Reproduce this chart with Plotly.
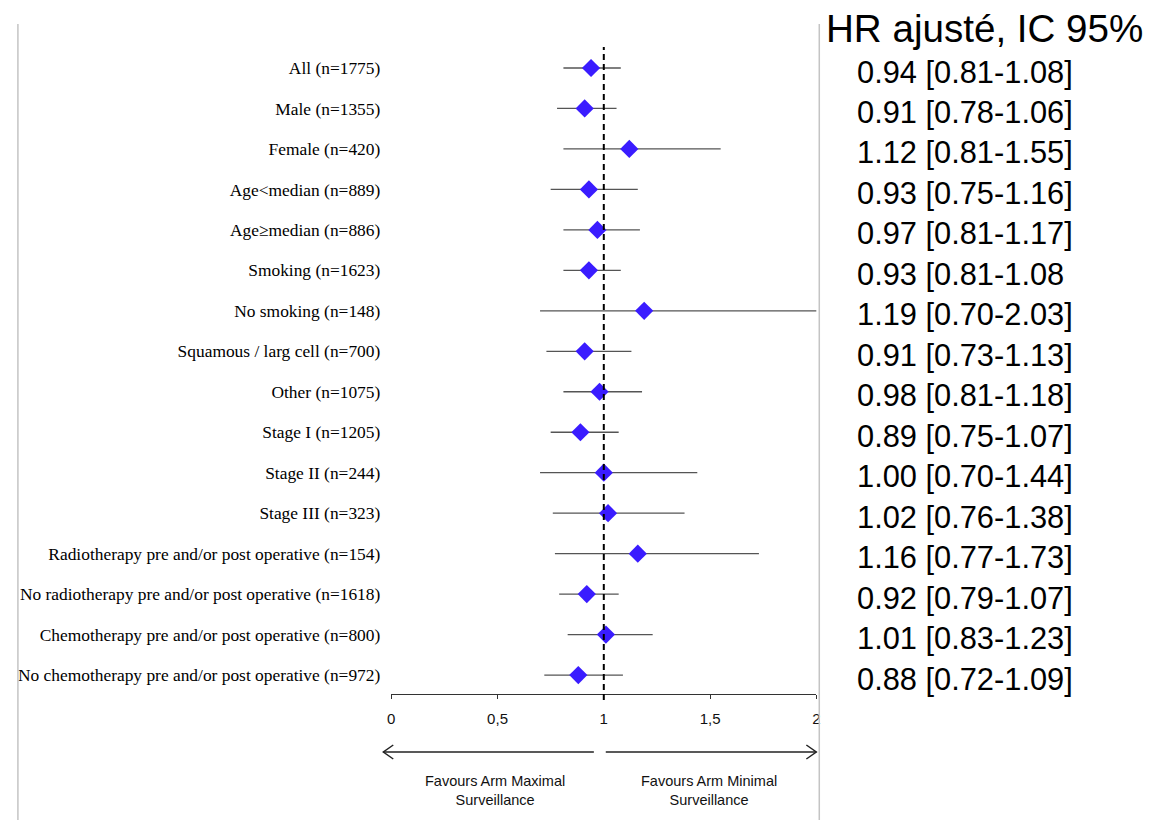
import plotly.graph_objects as go

W, H = 1149, 820

subgroups = [
    "All (n=1775)", "Male (n=1355)", "Female (n=420)", "Age<median (n=889)",
    "Age≥median (n=886)", "Smoking (n=1623)", "No smoking (n=148)",
    "Squamous / larg cell (n=700)", "Other (n=1075)", "Stage I (n=1205)",
    "Stage II (n=244)", "Stage III (n=323)",
    "Radiotherapy pre and/or post operative (n=154)",
    "No radiotherapy pre and/or post operative (n=1618)",
    "Chemotherapy pre and/or post operative (n=800)",
    "No chemotherapy pre and/or post operative (n=972)",
]
hr = [0.94, 0.91, 1.12, 0.93, 0.97, 0.93, 1.19, 0.91, 0.98, 0.89, 1.00, 1.02, 1.16, 0.92, 1.01, 0.88]
ci_low = [0.81, 0.78, 0.81, 0.75, 0.81, 0.81, 0.70, 0.73, 0.81, 0.75, 0.70, 0.76, 0.77, 0.79, 0.83, 0.72]
ci_high = [1.08, 1.06, 1.55, 1.16, 1.17, 1.08, 2.03, 1.13, 1.18, 1.07, 1.44, 1.38, 1.73, 1.07, 1.23, 1.09]
ci_text = [
    "0.94 [0.81-1.08]", "0.91 [0.78-1.06]", "1.12 [0.81-1.55]", "0.93 [0.75-1.16]",
    "0.97 [0.81-1.17]", "0.93 [0.81-1.08", "1.19 [0.70-2.03]", "0.91 [0.73-1.13]",
    "0.98 [0.81-1.18]", "0.89 [0.75-1.07]", "1.00 [0.70-1.44]", "1.02 [0.76-1.38]",
    "1.16 [0.77-1.73]", "0.92 [0.79-1.07]", "1.01 [0.83-1.23]", "0.88 [0.72-1.09]",
]
x_ticks = [0, 0.5, 1, 1.5, 2]
x_tick_labels = ["0", "0,5", "1", "1,5", "2"]
header = "HR ajusté, IC 95%"
left_note = "Favours Arm Maximal<br>Surveillance"
right_note = "Favours Arm Minimal<br>Surveillance"

n = len(subgroups)
ypos = [-i for i in range(n)]

# layout geometry (pixels)
x0_px, x1_px = 390, 818
top_px, bot_px = 47, 694
row0_px, step_px = 68, 40.47
y_top = -(top_px - row0_px) / step_px
y_bot = -(bot_px - row0_px) / step_px

def px(x):
    return x / W

def py(y):
    return 1 - y / H

fig = go.Figure()
fig.add_trace(go.Scatter(
    x=hr, y=ypos, mode="markers",
    marker=dict(symbol="diamond", size=14, color="#3a1cff", line=dict(width=0)),
    error_x=dict(type="data", symmetric=False,
                 array=[h - c for h, c in zip(ci_high, hr)],
                 arrayminus=[c - l for c, l in zip(hr, ci_low)],
                 color="#555555", thickness=1.3, width=0),
    showlegend=False, hoverinfo="skip",
))

shapes = []
# reference line at HR = 1
shapes.append(dict(type="line", xref="x", yref="paper", x0=1, x1=1,
                   y0=py(700), y1=py(47),
                   line=dict(color="black", width=2, dash="6px,4px")))
# frame lines
for xp in (14, 821):
    shapes.append(dict(type="line", xref="paper", yref="paper",
                       x0=px(xp), x1=px(xp), y0=0, y1=py(24),
                       line=dict(color="#c4c4c4", width=1.5)))
# arrows
ya = py(752)
shapes.append(dict(type="line", xref="paper", yref="paper",
                   x0=px(382), x1=px(594), y0=ya, y1=ya, line=dict(color="#222", width=1.5)))
shapes.append(dict(type="path", xref="paper", yref="paper",
                   path=f"M {px(392)},{py(745)} L {px(382)},{ya} L {px(392)},{py(759)}",
                   line=dict(color="#222", width=1.5)))
shapes.append(dict(type="line", xref="paper", yref="paper",
                   x0=px(606), x1=px(818), y0=ya, y1=ya, line=dict(color="#222", width=1.5)))
shapes.append(dict(type="path", xref="paper", yref="paper",
                   path=f"M {px(808)},{py(745)} L {px(818)},{ya} L {px(808)},{py(759)}",
                   line=dict(color="#222", width=1.5)))

annotations = []
annotations.append(dict(text=header, xref="paper", yref="paper", x=px(826), y=py(28),
                        xanchor="left", yanchor="middle", showarrow=False,
                        font=dict(family="Liberation Sans", size=38.6, color="black")))
for yv, t in zip(ypos, ci_text):
    annotations.append(dict(text=t, xref="paper", yref="y", x=px(857), y=yv, yshift=-4,
                            xanchor="left", yanchor="middle", showarrow=False,
                            font=dict(family="Liberation Sans", size=30.8, color="black")))
annotations.append(dict(text=left_note, xref="paper", yref="paper", x=px(494), y=py(790),
                        xanchor="center", yanchor="middle", showarrow=False,
                        font=dict(family="Liberation Sans", size=14.5, color="#111")))
annotations.append(dict(text=right_note, xref="paper", yref="paper", x=px(710), y=py(790),
                        xanchor="center", yanchor="middle", showarrow=False,
                        font=dict(family="Liberation Sans", size=14.5, color="#111")))

fig.update_layout(
    width=W, height=H, margin=dict(l=0, r=0, t=0, b=0),
    paper_bgcolor="white", plot_bgcolor="white",
    shapes=shapes, annotations=annotations,
    xaxis=dict(domain=[px(x0_px), px(x1_px)], range=[0, 2],
               tickvals=x_ticks, ticktext=x_tick_labels,
               showline=True, linecolor="#333", linewidth=1,
               ticks="outside", ticklen=4, tickcolor="#333",
               ticklabelstandoff=7,
               showgrid=False, zeroline=False,
               tickfont=dict(family="Liberation Sans", size=15, color="#111"),
               fixedrange=True),
    yaxis=dict(domain=[py(bot_px), py(top_px)], range=[y_bot, y_top],
               tickvals=ypos, ticktext=subgroups, ticks="",
               ticklabelstandoff=10,
               showline=False, showgrid=False, zeroline=False,
               tickfont=dict(family="Liberation Serif", size=17.4, color="black"),
               fixedrange=True),
)

fig.write_html("out.html")
